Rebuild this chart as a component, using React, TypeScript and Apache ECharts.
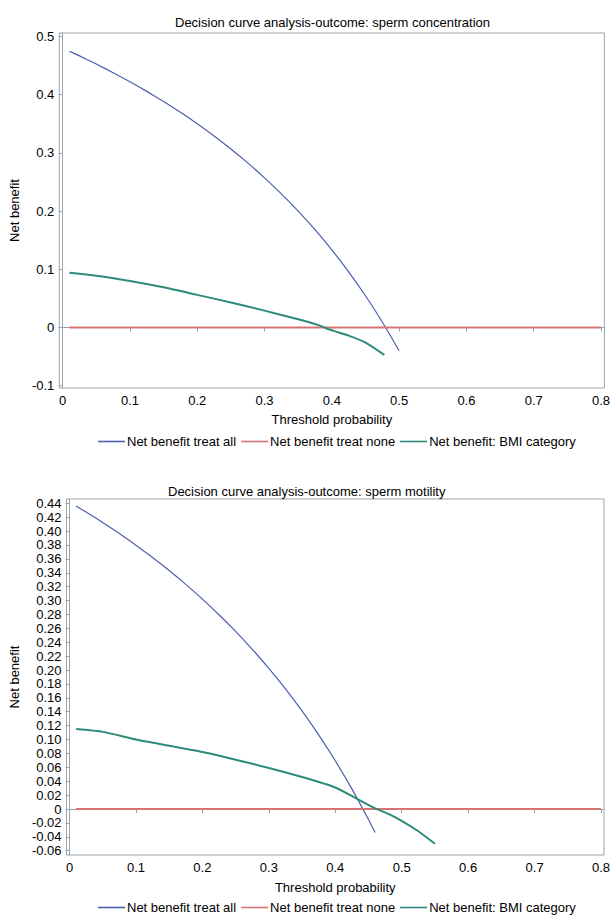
import React, { useEffect, useRef } from "react";
import * as echarts from "echarts";

// ---------- data ----------
const topTitle = "Decision curve analysis-outcome: sperm concentration";
const bottomTitle = "Decision curve analysis-outcome: sperm motility";
const seriesNames = ["Net benefit treat all", "Net benefit treat none", "Net benefit: BMI category"];

const xTicks = [0, 0.1, 0.2, 0.3, 0.4, 0.5, 0.6, 0.7, 0.8];
const topYTicks = [-0.1, 0, 0.1, 0.2, 0.3, 0.4, 0.5];
const bottomYTicks = [-0.06, -0.04, -0.02, 0, 0.02, 0.04, 0.06, 0.08, 0.1, 0.12, 0.14, 0.16, 0.18, 0.2, 0.22, 0.24, 0.26, 0.28, 0.3, 0.32, 0.34, 0.36, 0.38, 0.4, 0.42, 0.44];

// top chart: sperm concentration
const topAllX = [0.01, 0.025, 0.05, 0.075, 0.1, 0.125, 0.15, 0.175, 0.2, 0.225, 0.25, 0.275, 0.3, 0.325, 0.35, 0.375, 0.4, 0.425, 0.45, 0.475, 0.5];
const topAllY = [0.4747, 0.4667, 0.4526, 0.4378, 0.4222, 0.4057, 0.3882, 0.3697, 0.35, 0.329, 0.3067, 0.2828, 0.2571, 0.2296, 0.2, 0.168, 0.1333, 0.0957, 0.0545, 0.0095, -0.04];
const topNoneX = [0.01, 0.8];
const topNoneY = [0, 0];
const topBmiX = [0.01, 0.05, 0.1, 0.15, 0.2, 0.25, 0.3, 0.35, 0.38, 0.4, 0.425, 0.45, 0.478];
const topBmiY = [0.094, 0.089, 0.08, 0.069, 0.056, 0.043, 0.029, 0.014, 0.004, -0.005, -0.014, -0.026, -0.047];

// bottom chart: sperm motility
const botAllX = [0.01, 0.025, 0.05, 0.075, 0.1, 0.125, 0.15, 0.175, 0.2, 0.225, 0.25, 0.275, 0.3, 0.325, 0.35, 0.375, 0.4, 0.425, 0.45, 0.46];
const botAllY = [0.4361, 0.4274, 0.4123, 0.3964, 0.3797, 0.3619, 0.3432, 0.3233, 0.3021, 0.2796, 0.2556, 0.2299, 0.2024, 0.1729, 0.1411, 0.1067, 0.0695, 0.029, -0.0151, -0.0339];
const botNoneX = [0.01, 0.8];
const botNoneY = [0, 0];
const botBmiX = [0.01, 0.05, 0.1, 0.15, 0.2, 0.25, 0.3, 0.35, 0.4, 0.44, 0.46, 0.48, 0.5, 0.525, 0.55];
const botBmiY = [0.115, 0.111, 0.1, 0.091, 0.082, 0.071, 0.059, 0.046, 0.031, 0.011, 0.001, -0.007, -0.017, -0.032, -0.05];

const colors = ["#4b5fae", "#d67474", "#2e8b7c"];
const widths = [1.2, 2, 2];

const zip = (xs: number[], ys: number[]) => xs.map((x, i) => [x, ys[i]]);

export default function App() {
  const ref = useRef<HTMLDivElement>(null);
  useEffect(() => {
    document.body.style.margin = "0";
    if (!ref.current) return;
    const chart = echarts.init(ref.current, null, { renderer: "svg" });
    const font = "'Liberation Sans', Arial, sans-serif";
    const axisColor = "#9aa4ae";

    const xAxis = (gi: number, min: number, max: number, nameGap: number) => ({
      type: "value",
      gridIndex: gi,
      min,
      max,
      name: "Threshold probability",
      nameLocation: "middle",
      nameGap,
      nameTextStyle: { color: "#000", fontSize: 13, fontFamily: font },
      axisLine: { show: true, lineStyle: { color: axisColor, width: 1 } },
      axisTick: { show: true, length: 4, customValues: xTicks, lineStyle: { color: axisColor } },
      axisLabel: { customValues: xTicks, color: "#000", fontSize: 13, fontFamily: font, margin: 6 },
      splitLine: { show: false },
    });
    const yAxis = (gi: number, min: number, max: number, ticks: number[], nameGap: number, fmt: (v: number) => string) => ({
      type: "value",
      gridIndex: gi,
      min,
      max,
      name: "Net benefit",
      nameLocation: "middle",
      nameGap,
      nameTextStyle: { color: "#000", fontSize: 13, fontFamily: font },
      axisLine: { show: true, lineStyle: { color: axisColor, width: 1 } },
      axisTick: { show: true, length: 4, customValues: ticks, lineStyle: { color: axisColor } },
      axisLabel: { customValues: ticks, color: "#000", fontSize: 13, fontFamily: font, margin: 5, formatter: fmt },
      splitLine: { show: false },
    });

    const mk = (name: string, idx: number, data: number[][], gi: number) => ({
      type: "line",
      name,
      xAxisIndex: gi,
      yAxisIndex: gi,
      data,
      symbol: "none",
      showSymbol: false,
      smooth: idx === 1 ? false : 0.2,
      lineStyle: { color: colors[idx], width: widths[idx] },
      itemStyle: { color: colors[idx] },
    });

    const legendBase = {
      orient: "horizontal",
      icon: "rect",
      itemWidth: 27,
      itemHeight: 1.6,
      itemGap: 5,
      textStyle: { color: "#000", fontSize: 13, fontFamily: font, padding: [0, 0, 0, -3] },
      data: seriesNames,
    };

    chart.setOption({
      animation: false,
      backgroundColor: "#fff",
      title: [
        { text: topTitle, left: 170, top: 11, textStyle: { fontSize: 13, fontWeight: "normal", color: "#000", fontFamily: font } },
        { text: bottomTitle, left: 163, top: 480, textStyle: { fontSize: 13, fontWeight: "normal", color: "#000", fontFamily: font } },
      ],
      legend: [
        { ...legendBase, left: 93, top: 430 },
        { ...legendBase, left: 93, top: 896 },
      ],
      grid: [
        { left: 54, top: 33, width: 551, height: 355, show: true, borderColor: axisColor, borderWidth: 1, containLabel: false },
        { left: 59, top: 499, width: 546, height: 356, show: true, borderColor: axisColor, borderWidth: 1, containLabel: false },
      ],
      xAxis: [xAxis(0, -0.005, 0.805, 25), xAxis(1, -0.0045, 0.8045, 26)],
      yAxis: [
        yAxis(0, -0.104, 0.506, topYTicks, 31, (v: number) => String(v)),
        yAxis(1, -0.0662, 0.4462, bottomYTicks, 36, (v: number) => (Math.abs(v) < 1e-9 ? "0" : v.toFixed(2))),
      ],
      series: [
        mk(seriesNames[0], 0, zip(topAllX, topAllY), 0),
        mk(seriesNames[1], 1, zip(topNoneX, topNoneY), 0),
        mk(seriesNames[2], 2, zip(topBmiX, topBmiY), 0),
        mk(seriesNames[0], 0, zip(botAllX, botAllY), 1),
        mk(seriesNames[1], 1, zip(botNoneX, botNoneY), 1),
        mk(seriesNames[2], 2, zip(botBmiX, botBmiY), 1),
      ],
    });
    return () => chart.dispose();
  }, []);
  return <div ref={ref} style={{ width: 613, height: 916 }} />;
}
